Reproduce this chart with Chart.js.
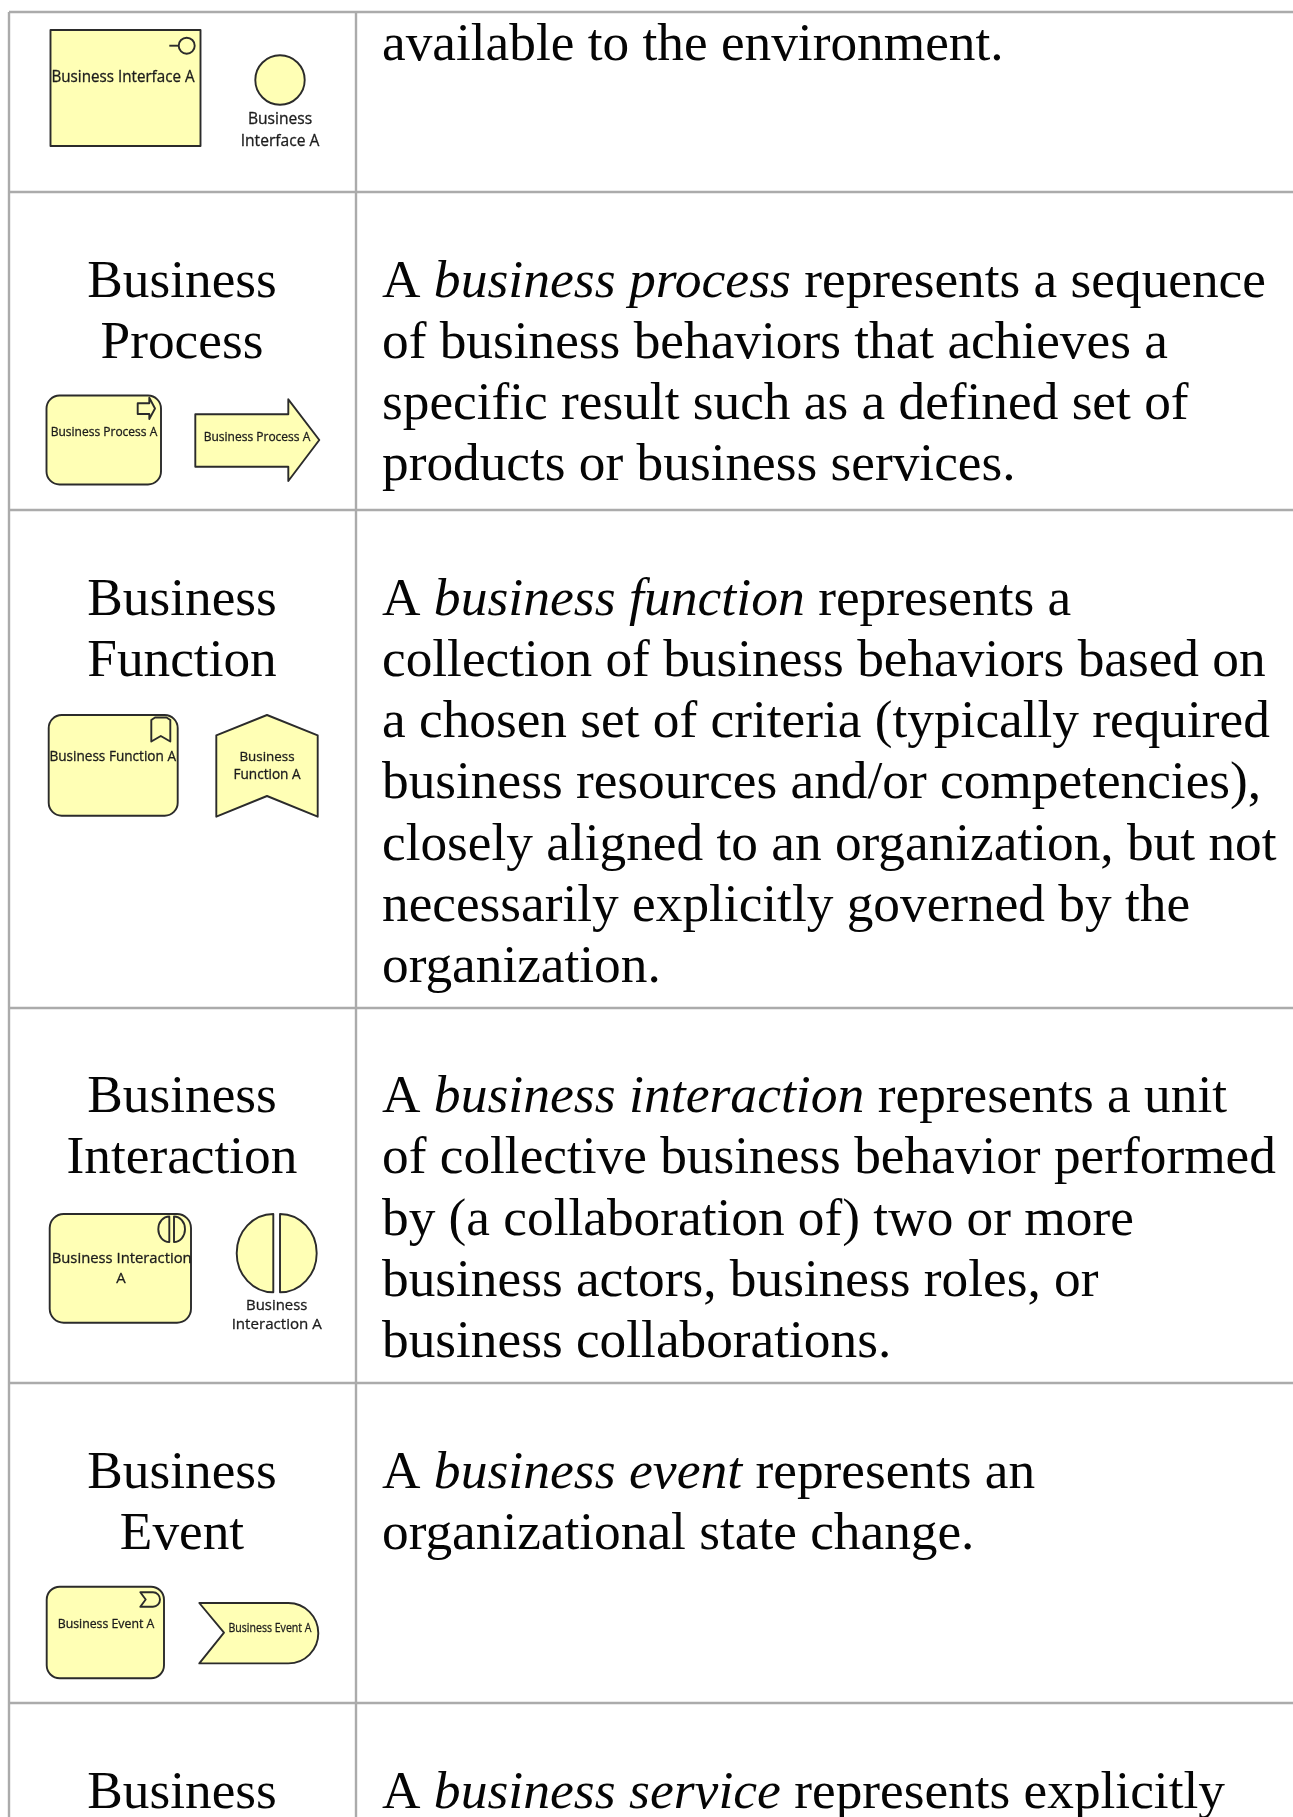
<!DOCTYPE html>
<html>
<head>
<meta charset="utf-8">
<title>Business behavior elements</title>
<script src="https://cdn.jsdelivr.net/npm/chart.js@4"></script>
<style>
  html, body { margin: 0; padding: 0; background: #fff; overflow: hidden; }
  canvas { display: block; }
</style>
</head>
<body>
<canvas id="table" width="1293" height="1817"></canvas>
<script>
// table text, *word* means italic
const ELEMENT_NAMES = [
  [],
  ['Business', 'Process'],
  ['Business', 'Function'],
  ['Business', 'Interaction'],
  ['Business', 'Event'],
  ['Business'],
];
const DESCRIPTIONS = [
  ['available to the environment.'],
  ['A *business process* represents a sequence', 'of business behaviors that achieves a', 'specific result such as a defined set of', 'products or business services.'],
  ['A *business function* represents a', 'collection of business behaviors based on', 'a chosen set of criteria (typically required', 'business resources and/or competencies),', 'closely aligned to an organization, but not', 'necessarily explicitly governed by the', 'organization.'],
  ['A *business interaction* represents a unit', 'of collective business behavior performed', 'by (a collaboration of) two or more', 'business actors, business roles, or', 'business collaborations.'],
  ['A *business event* represents an', 'organizational state change.'],
  ['A *business service* represents explicitly'],
];
const FIRST_BASELINES = [59.5, 296.5, 614.5, 1112, 1487.5, 1807.5];
const ROW_RULES = [12, 192, 510, 1008, 1383, 1703];
const COLUMN_RULES = [9, 356];

const LINE_PITCH = 61.3;
const BODY_SIZE = 53.3;
const ITALIC_SIZE = 53.65;
const SERIF = '"Liberation Serif"';
const SANS = '"Open Sans"';
const FILL = '#ffffb5';
const STROKE = '#2b2b2b';

const ruleDatasets = [
  ...ROW_RULES.map(y => ({ data: [{ x: COLUMN_RULES[0], y }, { x: 1293, y }] })),
  ...COLUMN_RULES.map(x => ({ data: [{ x, y: ROW_RULES[0] }, { x, y: 1817 }] })),
].map(d => ({ ...d, showLine: true, borderColor: '#ababab', borderWidth: 2.4, pointRadius: 0 }));

function drawRuns(ctx, line, x, y) {
  line.split('*').forEach((run, i) => {
    ctx.font = i % 2 ? `italic ${ITALIC_SIZE}px ${SERIF}` : `${BODY_SIZE}px ${SERIF}`;
    ctx.fillText(run, x, y);
    x += ctx.measureText(run).width;
  });
}

function drawCellText(ctx) {
  ctx.fillStyle = '#050505';
  ctx.textBaseline = 'alphabetic';
  DESCRIPTIONS.forEach((lines, row) => {
    ctx.textAlign = 'left';
    lines.forEach((line, i) => drawRuns(ctx, line, 382, FIRST_BASELINES[row] + i * LINE_PITCH));
    ctx.textAlign = 'center';
    ctx.font = `${BODY_SIZE}px ${SERIF}`;
    ELEMENT_NAMES[row].forEach((name, i) => ctx.fillText(name, 182, FIRST_BASELINES[row] + i * LINE_PITCH));
    ctx.textAlign = 'left';
  });
}

function shape(ctx, build, filled = true) {
  ctx.beginPath();
  build();
  if (filled) {
    ctx.fillStyle = FILL;
    ctx.fill();
  }
  ctx.strokeStyle = STROKE;
  ctx.lineWidth = 1.9;
  ctx.lineJoin = 'round';
  ctx.stroke();
}

function poly(ctx, pts, close = true) {
  pts.forEach((p, i) => i ? ctx.lineTo(p[0], p[1]) : ctx.moveTo(p[0], p[1]));
  if (close) ctx.closePath();
}

function roundBox(ctx, x0, y0, x1, y1, r) {
  shape(ctx, () => ctx.roundRect(x0, y0, x1 - x0, y1 - y0, r));
}

// the small diagram labels look heavier than regular in the picture, hence the thin stroke
function label(ctx, text, x, y, size, maxWidth) {
  ctx.font = `${size}px ${SANS}`;
  ctx.fillStyle = '#1c1c1c';
  ctx.strokeStyle = '#1c1c1c';
  ctx.lineWidth = 0.3;
  ctx.textAlign = 'center';
  if (maxWidth) {
    ctx.fillText(text, x, y, maxWidth);
    ctx.strokeText(text, x, y, maxWidth);
  } else {
    ctx.fillText(text, x, y);
    ctx.strokeText(text, x, y);
  }
}

function drawInterface(ctx) {
  shape(ctx, () => ctx.rect(50.5, 30, 150, 116));
  shape(ctx, () => ctx.arc(186.7, 45.7, 8, 0, Math.PI * 2), false);
  shape(ctx, () => poly(ctx, [[169.3, 45.7], [178.7, 45.7]], false), false);
  label(ctx, 'Business Interface A', 123, 81.5, 15.4, 143);
  shape(ctx, () => ctx.arc(280, 80, 24.7, 0, Math.PI * 2));
  label(ctx, 'Business', 280, 124, 15.6);
  label(ctx, 'Interface A', 280, 146, 15.6);
}

function drawProcess(ctx) {
  roundBox(ctx, 46.5, 395.5, 161, 484.5, 13);
  shape(ctx, () => poly(ctx, [[137.7, 403.3], [149.3, 403.3], [149.3, 397.7], [155, 408.5], [149.3, 419], [149.3, 414], [137.7, 414]]), false);
  label(ctx, 'Business Process A', 104, 435.7, 12);
  shape(ctx, () => poly(ctx, [[195.3, 414.3], [288.3, 414.3], [288.3, 399.3], [319.3, 440], [288.3, 481], [288.3, 466.7], [195.3, 466.7]]));
  label(ctx, 'Business Process A', 257, 441.3, 12);
}

function drawFunction(ctx) {
  roundBox(ctx, 48.7, 715, 177.7, 815.7, 13);
  shape(ctx, () => poly(ctx, [[151.3, 720], [155, 717.5], [166.5, 717.5], [170.3, 720], [170.3, 741.5], [160.8, 736], [151.3, 741.5]]), false);
  label(ctx, 'Business Function A', 112.7, 760.7, 13.6, 127);
  shape(ctx, () => poly(ctx, [[216.3, 735.3], [267, 715], [317.7, 735.3], [317.7, 816.7], [267, 796], [216.3, 816.7]]));
  label(ctx, 'Business', 267, 760.7, 13.4);
  label(ctx, 'Function A', 267, 778.7, 13.6);
}

function halfRound(ctx, flatX, top, bottom, rx, dir) {
  const cy = (top + bottom) / 2;
  const ry = (bottom - top) / 2;
  ctx.moveTo(flatX, top);
  ctx.ellipse(flatX, cy, rx, ry, 0, -Math.PI / 2, Math.PI / 2, dir < 0);
  ctx.closePath();
}

function drawInteraction(ctx) {
  roundBox(ctx, 49.7, 1214, 191, 1322.7, 14);
  shape(ctx, () => halfRound(ctx, 169.3, 1216.5, 1242, 11, -1), false);
  shape(ctx, () => halfRound(ctx, 174, 1216.5, 1242, 11, 1), false);
  label(ctx, 'Business Interaction', 121.7, 1263.3, 14.9, 140);
  label(ctx, 'A', 121, 1282.7, 14.9);
  shape(ctx, () => halfRound(ctx, 273.3, 1214, 1292.3, 36.6, -1));
  shape(ctx, () => halfRound(ctx, 280, 1214, 1292.3, 36.7, 1));
  label(ctx, 'Business', 276.7, 1310, 14.9);
  label(ctx, 'Interaction A', 276.7, 1329.3, 15.1);
}

function drawEvent(ctx) {
  roundBox(ctx, 46.7, 1586.7, 164, 1678.3, 13);
  shape(ctx, () => {
    ctx.moveTo(140.3, 1592.3);
    ctx.lineTo(153, 1592.3);
    ctx.ellipse(153, 1599.5, 7, 7.2, 0, -Math.PI / 2, Math.PI / 2);
    ctx.lineTo(140.3, 1606.7);
    ctx.lineTo(145.7, 1599.5);
    ctx.closePath();
  }, false);
  label(ctx, 'Business Event A', 106, 1628.3, 12.3, 97);
  shape(ctx, () => {
    ctx.moveTo(199.3, 1603);
    ctx.lineTo(288.3, 1603);
    ctx.ellipse(288.3, 1633.2, 30, 30.2, 0, -Math.PI / 2, Math.PI / 2);
    ctx.lineTo(199.3, 1663.4);
    ctx.lineTo(224, 1632.7);
    ctx.closePath();
  });
  label(ctx, 'Business Event A', 270, 1631.7, 12.3, 83);
}

const tablePlugin = {
  id: 'tableCells',
  afterDatasetsDraw(chart) {
    const ctx = chart.ctx;
    ctx.save();
    drawCellText(ctx);
    drawInterface(ctx);
    drawProcess(ctx);
    drawFunction(ctx);
    drawInteraction(ctx);
    drawEvent(ctx);
    ctx.restore();
  },
};

new Chart(document.getElementById('table'), {
  type: 'scatter',
  data: { datasets: ruleDatasets },
  plugins: [tablePlugin],
  options: {
    responsive: false,
    animation: false,
    plugins: { legend: { display: false }, tooltip: { enabled: false } },
    layout: { padding: 0 },
    scales: {
      x: { type: 'linear', display: false, min: 0, max: 1293 },
      y: { type: 'linear', display: false, min: 0, max: 1817, reverse: true },
    },
  },
});
</script>
</body>
</html>
